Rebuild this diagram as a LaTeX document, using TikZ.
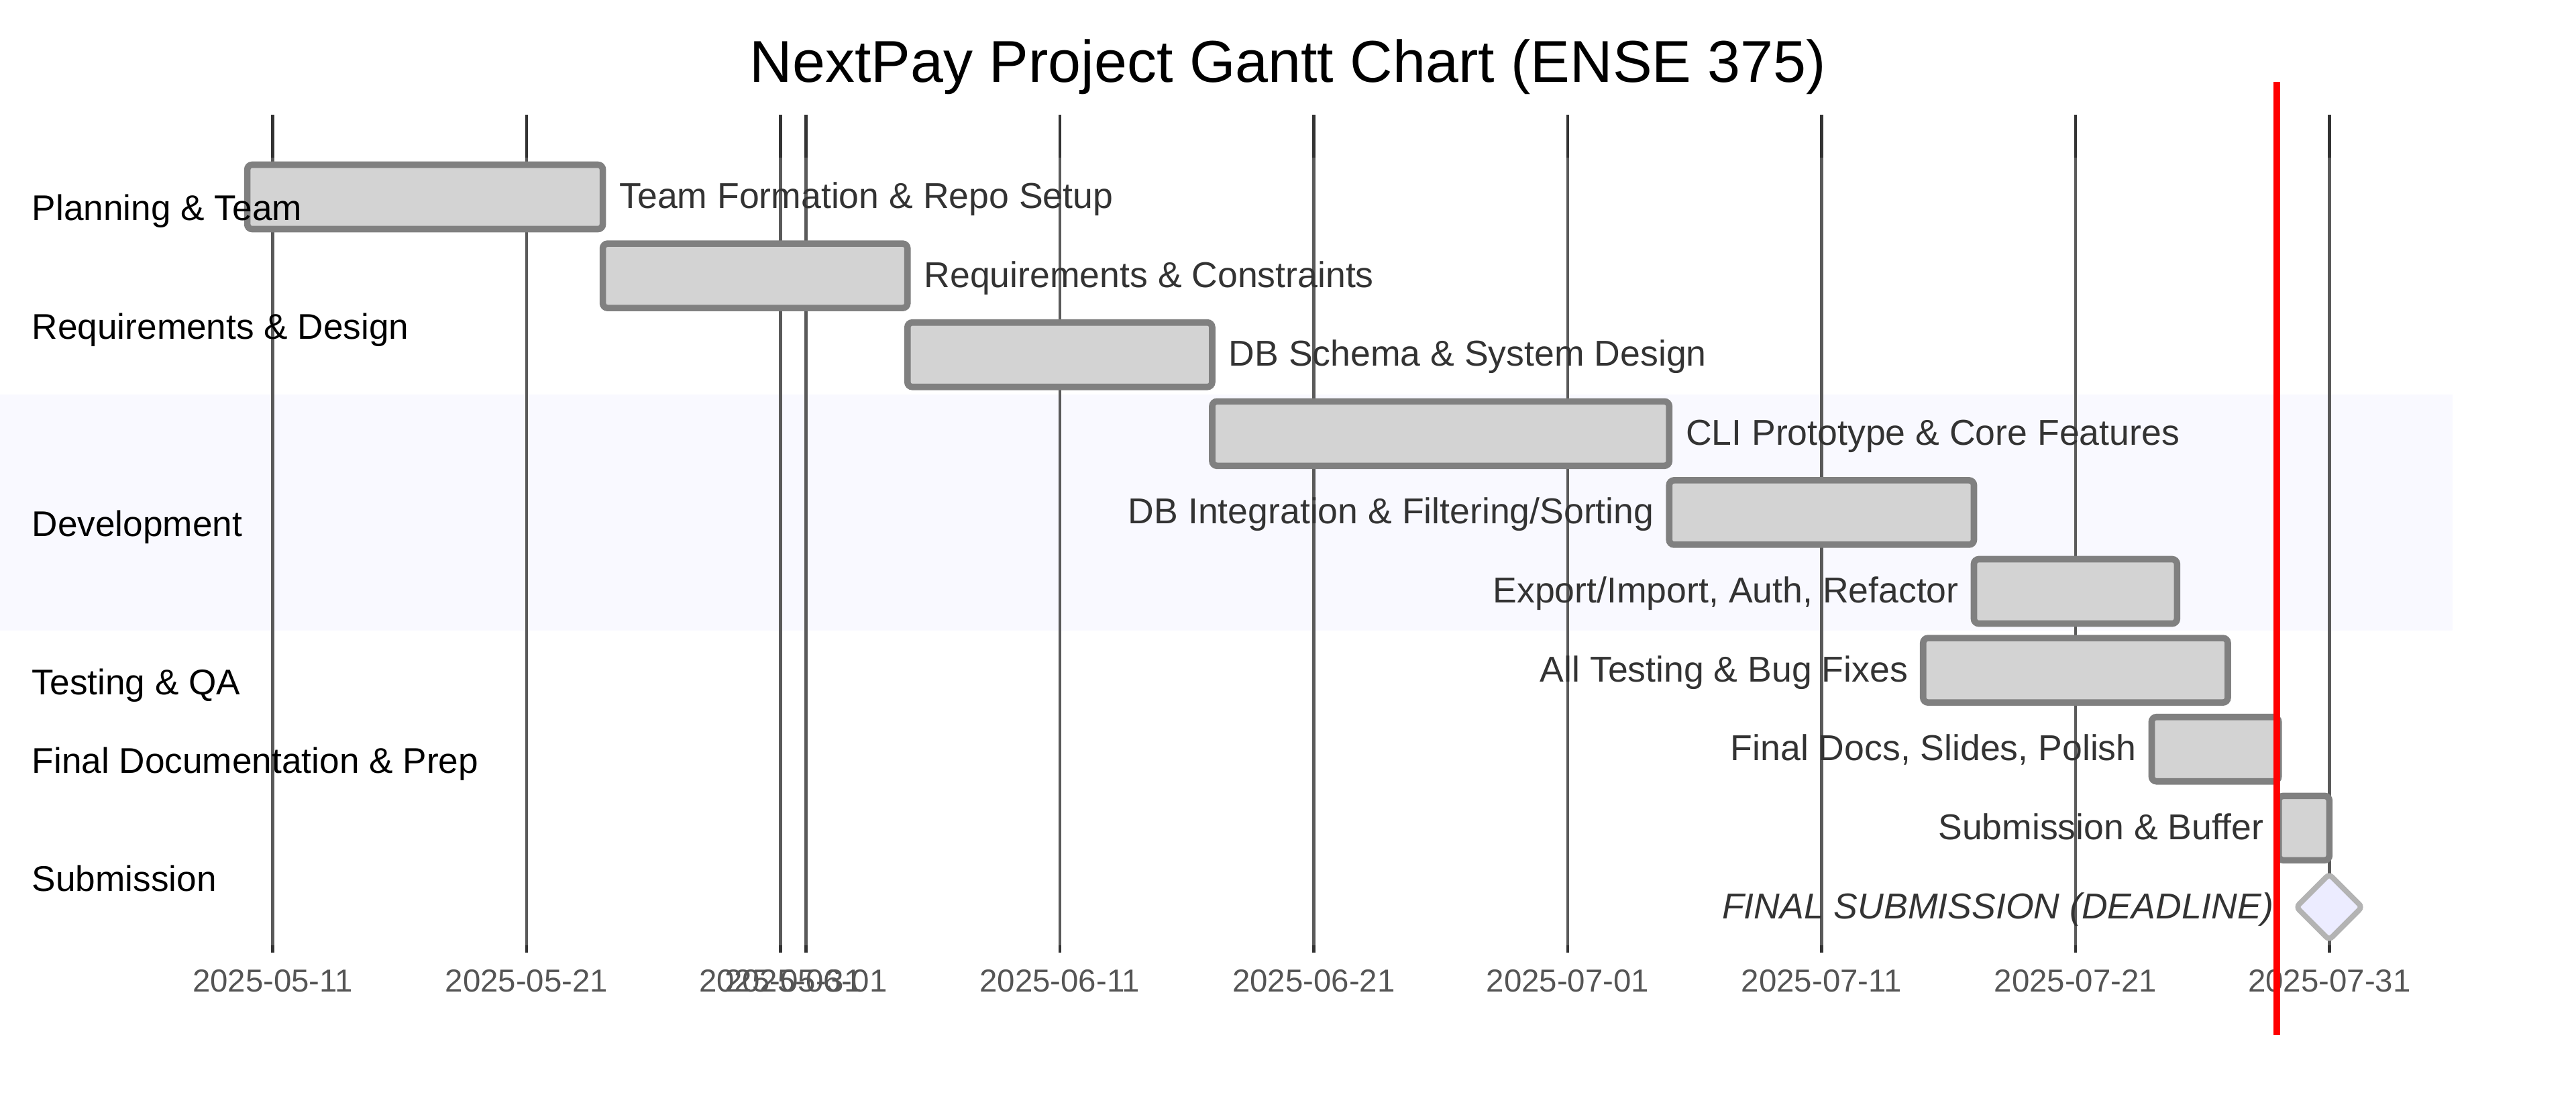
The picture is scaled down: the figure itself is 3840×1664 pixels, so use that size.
\documentclass[tikz,border=0pt]{standalone}
\usepackage{fontspec}
\setmainfont{Liberation Sans}
\definecolor{barfill}{HTML}{D3D3D3}
\definecolor{barline}{HTML}{808080}
\definecolor{gridc}{HTML}{5A5A5A}
\definecolor{tickc}{HTML}{333333}
\definecolor{labc}{HTML}{333333}
\definecolor{axisc}{HTML}{555555}
\definecolor{bandc}{HTML}{F9F9FF}
\definecolor{msfill}{HTML}{ECECFF}
\definecolor{msline}{HTML}{B3B3B3}
\definecolor{todayc}{HTML}{FF0000}
\newcommand\gtaskR[4]{% row, start day, end day, label
  \pgfmathsetmacro\gcy{293.5+117.6*#1}
  \pgfmathsetmacro\gxs{406.5+37.85*(#2)}
  \pgfmathsetmacro\gxe{406.5+37.85*(#3)}
  \draw[taskbar] (\gxs,\gcy-48) rectangle (\gxe,\gcy+48);
  \node[tasklab,anchor=base west] (task#1) at ({\gxe+24},{\gcy+17}) {#4};
}
\newcommand\gtaskL[4]{% row, start day, end day, label
  \pgfmathsetmacro\gcy{293.5+117.6*#1}
  \pgfmathsetmacro\gxs{406.5+37.85*(#2)}
  \pgfmathsetmacro\gxe{406.5+37.85*(#3)}
  \draw[taskbar] (\gxs,\gcy-48) rectangle (\gxe,\gcy+48);
  \node[tasklab,anchor=base east] (task#1) at ({\gxs-22},{\gcy+17}) {#4};
}
\begin{document}
\begin{tikzpicture}[x=0.25pt,y=-0.25pt,
  taskbar/.style={draw=barline,fill=barfill,line width=2.4pt,rounded corners=1.8pt},
  tasklab/.style={font=\fontsize{13.4}{16}\selectfont,text=labc,inner sep=0pt},
  seclab/.style={font=\fontsize{13.3}{16}\selectfont,text=black,inner sep=0pt,anchor=base west},
  axislab/.style={font=\fontsize{11.85}{14}\selectfont,text=axisc,inner sep=0pt,anchor=base},
  gridline/.style={draw=gridc,line width=1.15pt},
  tickmark/.style={draw=tickc,line width=1.15pt},
  milestone/.style={draw=msline,fill=msfill,line width=2pt,rounded corners=1.5pt},
  todayline/.style={draw=todayc,line width=2.5pt}]
\useasboundingbox (0,0) rectangle (3840,1664);
\fill[white] (0,0) rectangle (3840,1664);
% section band (Development)
\fill[bandc] (0,588) rectangle (3656,940);
% grid lines and axis labels
\foreach \d/\lab in {0/2025-05-11,10/2025-05-21,20/2025-05-31,21/2025-06-01,31/2025-06-11,41/2025-06-21,51/2025-07-01,61/2025-07-11,71/2025-07-21,81/2025-07-31}{
  \pgfmathsetmacro\gx{406.5+37.85*\d}
  \draw[gridline] (\gx,171) -- (\gx,1420);
  \draw[tickmark] (\gx,171) -- (\gx,235);
  \draw[tickmark] (\gx,1409) -- (\gx,1420);
  \node[axislab] (ax\d) at (\gx,1478) {\lab};
}
% title
\node[font=\fontsize{22}{26}\selectfont,anchor=base,inner sep=0pt] (title) at (1920,122) {NextPay Project Gantt Chart (ENSE 375)};
% tasks
\gtaskR{0}{-1}{13}{Team Formation \& Repo Setup}
\gtaskR{1}{13}{25}{Requirements \& Constraints}
\gtaskR{2}{25}{37}{DB Schema \& System Design}
\gtaskR{3}{37}{55}{CLI Prototype \& Core Features}
\gtaskL{4}{55}{67}{DB Integration \& Filtering/Sorting}
\gtaskL{5}{67}{75}{Export/Import, Auth, Refactor}
\gtaskL{6}{65}{77}{All Testing \& Bug Fixes}
\gtaskL{7}{74}{79}{Final Docs, Slides, Polish}
\gtaskL{8}{79}{81}{Submission \& Buffer}
% milestone
\coordinate (msC) at (3472,1352);
\draw[milestone] (3472,1303) -- (3521,1352) -- (3472,1401) -- (3423,1352) -- cycle;
\node[tasklab,anchor=base east,font=\fontsize{13.4}{16}\selectfont\itshape] (task9) at (3390,1369) {FINAL SUBMISSION (DEADLINE)};
% section labels (drawn over the bars)
\node[seclab] (secPlan) at (47,328) {Planning \& Team};
\node[seclab] (secReq) at (47,505) {Requirements \& Design};
\node[seclab] (secDev) at (47,799) {Development};
\node[seclab] (secTest) at (47,1035) {Testing \& QA};
\node[seclab] (secDoc) at (47,1152) {Final Documentation \& Prep};
\node[seclab] (secSub) at (47,1328) {Submission};
% today marker
\coordinate (todayTop) at (3394,122);
\coordinate (todayBot) at (3394,1543);
\draw[todayline] (todayTop) -- (todayBot);
\end{tikzpicture}
\end{document}
